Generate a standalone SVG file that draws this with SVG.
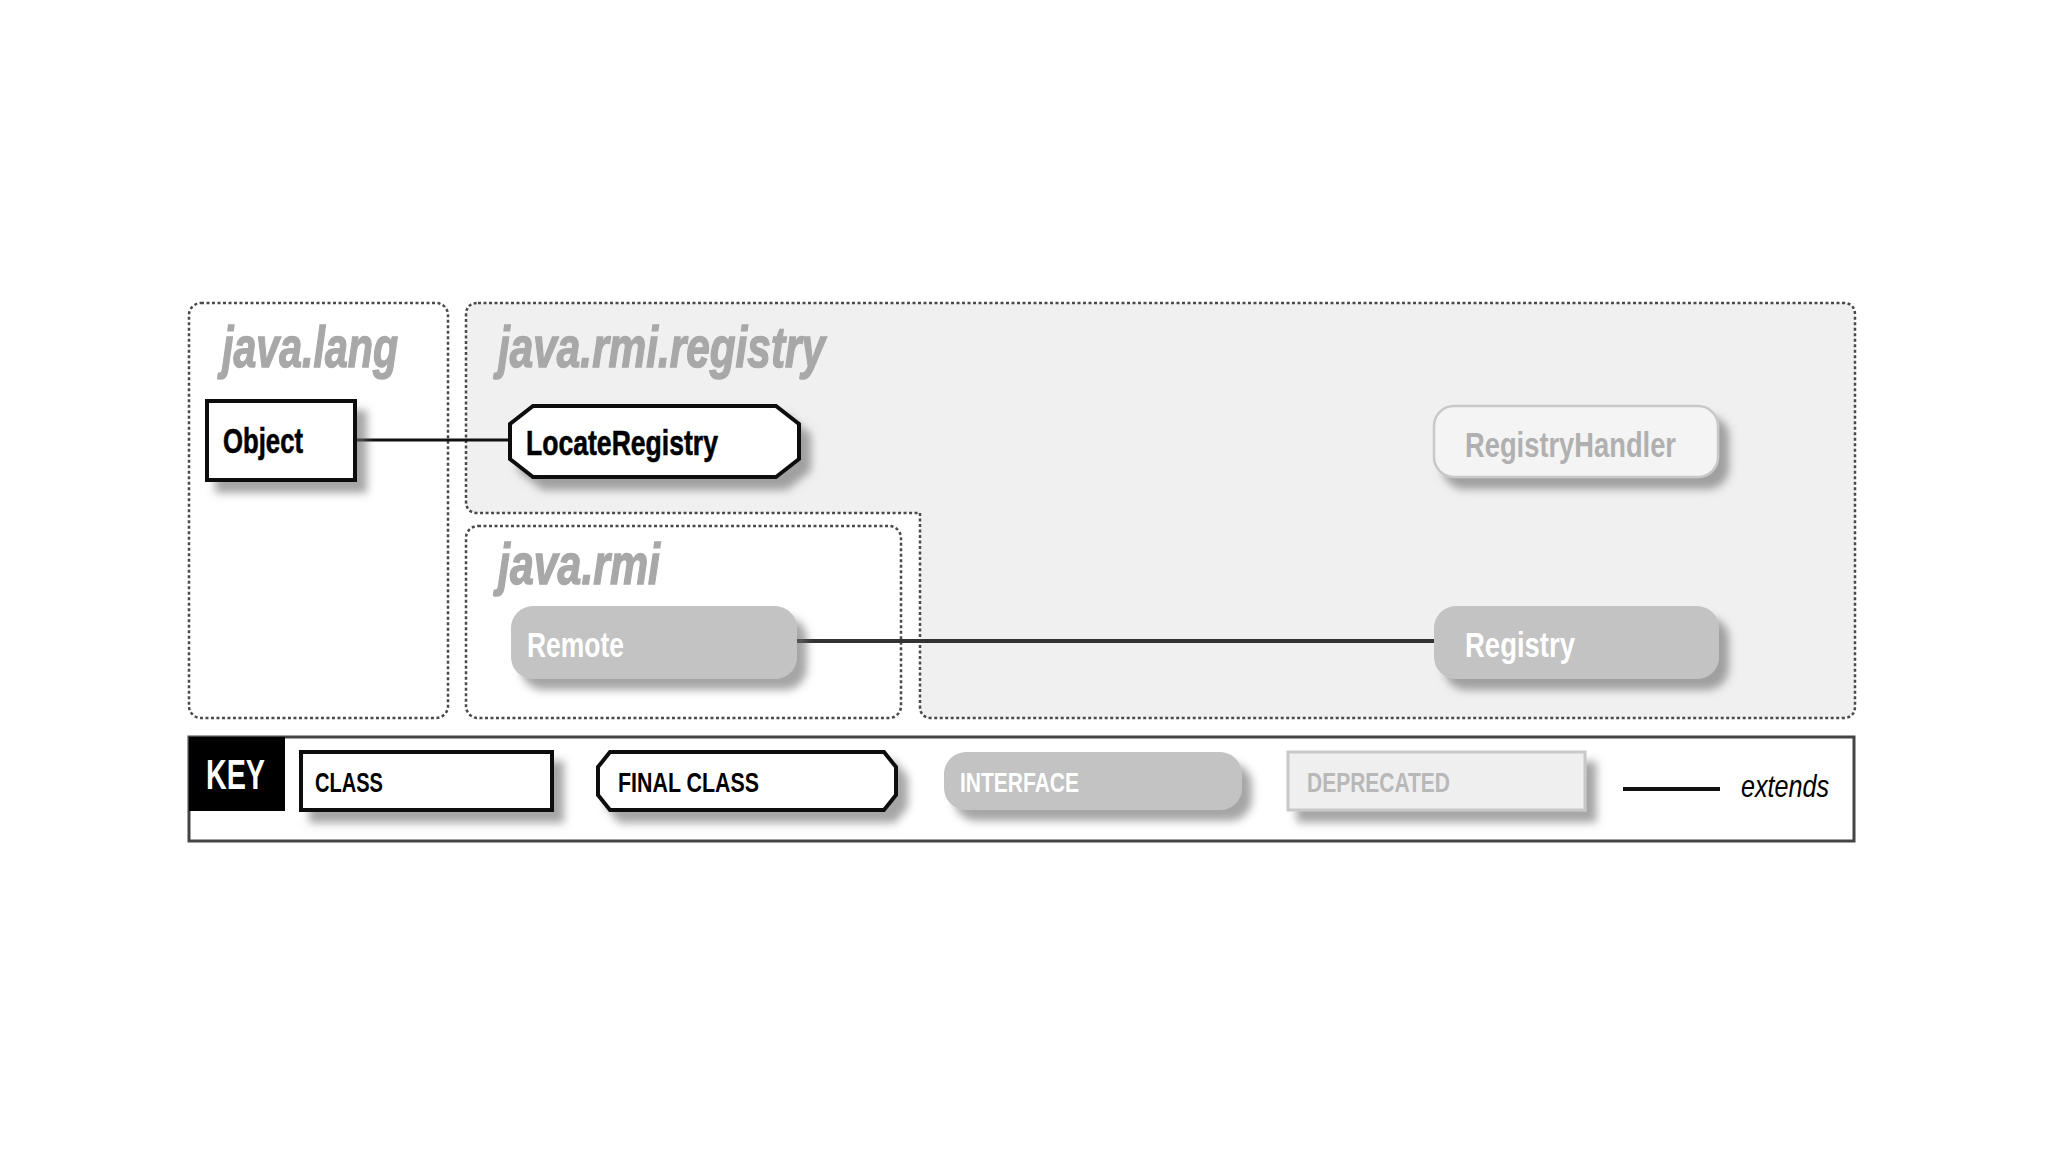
<svg xmlns="http://www.w3.org/2000/svg" width="2048" height="1152" viewBox="0 0 2048 1152">
<style>
.pkg{stroke:#4a4a4a;stroke-width:2.5;stroke-dasharray:3 2.5}
.pkgl{font-family:"Liberation Sans",Arial,sans-serif;font-weight:bold;font-style:italic;font-size:58px;fill:#a8a8a8;stroke:#a8a8a8;stroke-width:1.5}
.t{font-family:"Liberation Sans",Arial,sans-serif;font-weight:bold;font-size:35px}
.k{font-family:"Liberation Sans",Arial,sans-serif;font-weight:bold;font-size:27px}
.cls{fill:#fff;stroke:#111;stroke-width:4}
.ifc{fill:#c3c3c3}
.dep{fill:#f4f4f4;stroke:#c8c8c8;stroke-width:2.5}
.ext{stroke:#111;stroke-width:3;fill:none}
</style>
<defs>
<filter id="sh" x="-10%" y="-20%" width="130%" height="160%">
<feDropShadow dx="10" dy="11" stdDeviation="4" flood-color="#6a6a6a" flood-opacity="0.6"/>
</filter>
</defs>
<rect width="2048" height="1152" fill="#fff"/>

<g id="pkg-java-lang">
<rect class="pkg" x="189" y="303" width="259" height="415" rx="12" fill="#fff"/>
<text class="pkgl" x="222" y="367" textLength="176" lengthAdjust="spacingAndGlyphs">java.lang</text>
</g>
<g id="pkg-java-rmi-registry">
<path class="pkg" fill="#f0f0f0" d="M478,303 H1843 Q1855,303 1855,315 V706 Q1855,718 1843,718 H932 Q920,718 920,706 V513 H478 Q466,513 466,501 V315 Q466,303 478,303 Z"/>
<text class="pkgl" x="498" y="367" textLength="327" lengthAdjust="spacingAndGlyphs">java.rmi.registry</text>
</g>
<g id="pkg-java-rmi">
<rect class="pkg" x="466" y="526" width="435" height="192" rx="12" fill="#fff"/>
<text class="pkgl" x="498" y="584" textLength="162" lengthAdjust="spacingAndGlyphs">java.rmi</text>
</g>

<g id="connectors">
<line class="ext" x1="355" y1="440" x2="510" y2="440"/>
<line x1="797" y1="641" x2="1436" y2="641" stroke="#333" stroke-width="4"/>
</g>

<g id="node-Object">
<rect class="cls" x="207" y="401" width="148" height="79" filter="url(#sh)"/>
<text class="t" x="223" y="453" textLength="80" lengthAdjust="spacingAndGlyphs" fill="#000" stroke="#000" stroke-width="0.6">Object</text>
</g>
<g id="node-LocateRegistry">
<path class="cls" filter="url(#sh)" d="M533,406 H776 L799,424 V459 L776,477 H533 L510,459 V424 Z"/>
<text class="t" x="526" y="455" textLength="192" lengthAdjust="spacingAndGlyphs" fill="#000" stroke="#000" stroke-width="0.6">LocateRegistry</text>
</g>
<g id="node-RegistryHandler">
<rect class="dep" x="1434" y="406" width="284" height="71" rx="20" filter="url(#sh)"/>
<text class="t" x="1465" y="457" textLength="211" lengthAdjust="spacingAndGlyphs" fill="#b0b0b0">RegistryHandler</text>
</g>
<g id="node-Remote">
<rect class="ifc" x="511" y="606" width="286" height="73" rx="22" filter="url(#sh)"/>
<text class="t" x="527" y="657" textLength="97" lengthAdjust="spacingAndGlyphs" fill="#fff">Remote</text>
</g>
<g id="node-Registry">
<rect class="ifc" x="1434" y="606" width="285" height="73" rx="22" filter="url(#sh)"/>
<text class="t" x="1465" y="657" textLength="110" lengthAdjust="spacingAndGlyphs" fill="#fff">Registry</text>
</g>

<g id="key">
<rect x="189" y="737" width="1665" height="104" fill="#fff" stroke="#444" stroke-width="3"/>
<rect x="189" y="737" width="96" height="74" fill="#000"/>
<text x="206" y="789" font-family="Liberation Sans, Arial, sans-serif" font-weight="bold" font-size="42" fill="#fff" textLength="59" lengthAdjust="spacingAndGlyphs">KEY</text>
<rect class="cls" x="301" y="752" width="251" height="58" filter="url(#sh)"/>
<text class="k" x="315" y="792" textLength="68" lengthAdjust="spacingAndGlyphs" fill="#000">CLASS</text>
<path class="cls" filter="url(#sh)" d="M610,752 H884 L896,767 V795 L884,810 H610 L598,795 V767 Z"/>
<text class="k" x="618" y="792" textLength="141" lengthAdjust="spacingAndGlyphs" fill="#000">FINAL CLASS</text>
<rect class="ifc" x="944" y="752" width="298" height="58" rx="22" filter="url(#sh)"/>
<text class="k" x="960" y="792" textLength="119" lengthAdjust="spacingAndGlyphs" fill="#fff">INTERFACE</text>
<rect x="1288" y="752" width="297" height="58" fill="#efefef" stroke="#c8c8c8" stroke-width="3" filter="url(#sh)"/>
<text class="k" x="1307" y="792" textLength="143" lengthAdjust="spacingAndGlyphs" fill="#b8b8b8">DEPRECATED</text>
<line x1="1623" y1="789" x2="1720" y2="789" stroke="#111" stroke-width="4"/>
<text x="1741" y="797" font-family="Liberation Sans, Arial, sans-serif" font-style="italic" font-size="32" fill="#000" textLength="88" lengthAdjust="spacingAndGlyphs">extends</text>
</g>
</svg>
